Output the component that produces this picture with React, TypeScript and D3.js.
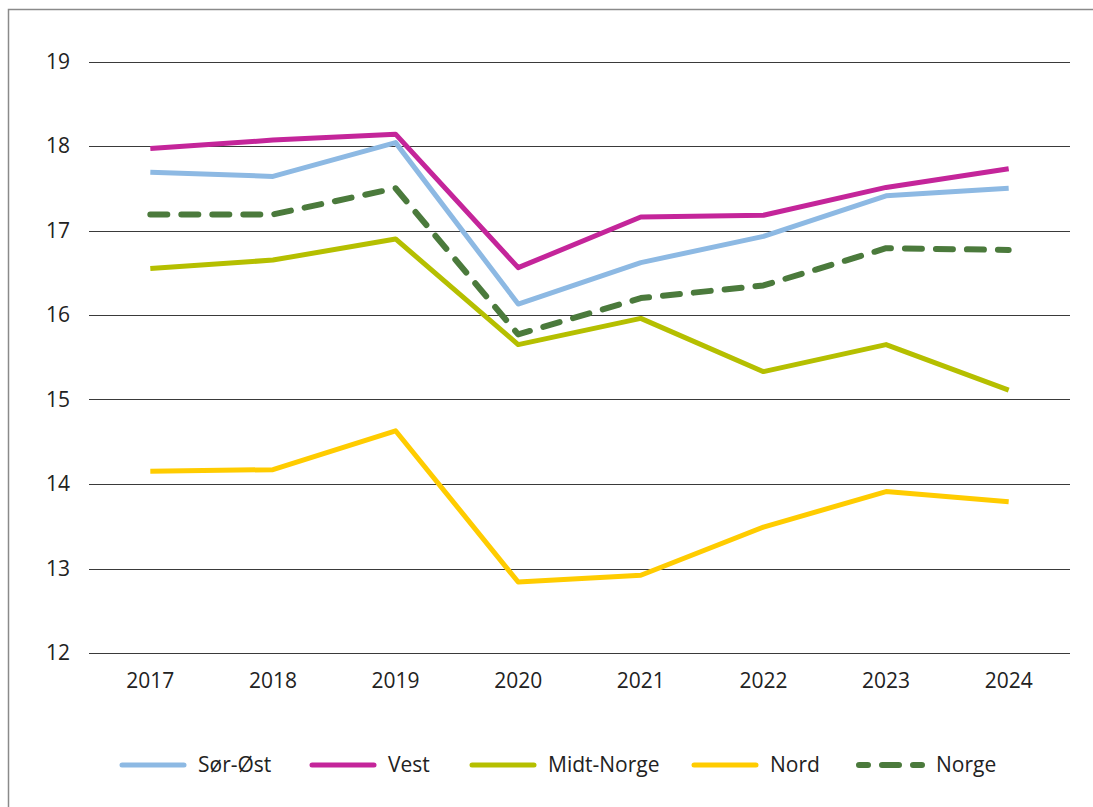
import React, { useRef, useEffect } from 'react';
import * as d3 from 'd3';

const years = ['2017', '2018', '2019', '2020', '2021', '2022', '2023', '2024'];
const yTicks = [12, 13, 14, 15, 16, 17, 18, 19];

const sorOst = [17.69, 17.64, 18.04, 16.13, 16.62, 16.93, 17.41, 17.5];
const vest = [17.97, 18.07, 18.14, 16.56, 17.16, 17.18, 17.51, 17.73];
const midtNorge = [16.55, 16.65, 16.9, 15.65, 15.96, 15.33, 15.65, 15.11];
const nord = [14.15, 14.17, 14.63, 12.84, 12.92, 13.49, 13.91, 13.79];
const norge = [17.19, 17.19, 17.5, 15.77, 16.2, 16.35, 16.79, 16.77];

const series = [
  { name: 'Sør-Øst', values: sorOst, color: '#8db9e3', dashed: false },
  { name: 'Vest', values: vest, color: '#c4259a', dashed: false },
  { name: 'Midt-Norge', values: midtNorge, color: '#b5bf00', dashed: false },
  { name: 'Nord', values: nord, color: '#ffcc00', dashed: false },
  { name: 'Norge', values: norge, color: '#4b7a3c', dashed: true },
];

const W = 1093;
const H = 807;
const FONT = '"Open Sans", sans-serif';

const App = () => {
  const ref = useRef<SVGSVGElement | null>(null);

  useEffect(() => {
    if (!ref.current) return;
    const svg = d3.select(ref.current);
    svg.selectAll('*').remove();

    // frame (only top + left edges show)
    svg.append('path')
      .attr('d', `M8.5,${H} V9.5 H${W}`)
      .attr('fill', 'none')
      .attr('stroke', '#8a8a8a')
      .attr('stroke-width', 1.5);

    const x = d3.scaleBand().domain(years).range([89, 1070]);
    const y = d3.scaleLinear().domain([12, 19]).range([653, 61.5]);

    const grid = svg.append('g');
    yTicks.forEach(t => {
      grid.append('line')
        .attr('x1', 89).attr('x2', 1070)
        .attr('y1', Math.round(y(t)) + 0.5).attr('y2', Math.round(y(t)) + 0.5)
        .attr('stroke', '#3a3a3a')
        .attr('stroke-width', 1);
      grid.append('text')
        .attr('x', 70)
        .attr('y', y(t))
        .attr('dy', '0.35em')
        .attr('text-anchor', 'end')
        .attr('font-family', FONT)
        .attr('font-size', 21)
        .attr('fill', '#222')
        .text(t);
    });

    years.forEach(yr => {
      svg.append('text')
        .attr('x', x(yr)! + x.bandwidth() / 2)
        .attr('y', 688)
        .attr('text-anchor', 'middle')
        .attr('font-family', FONT)
        .attr('font-size', 21)
        .attr('fill', '#222')
        .text(yr);
    });

    const line = d3.line<number>()
      .x((_, i) => x(years[i])! + x.bandwidth() / 2)
      .y(d => y(d));

    series.forEach(s => {
      svg.append('path')
        .attr('d', line(s.values)!)
        .attr('fill', 'none')
        .attr('stroke', s.color)
        .attr('stroke-width', s.dashed ? 6 : 5)
        .attr('stroke-linejoin', 'round')
        .attr('stroke-linecap', s.dashed ? 'round' : 'butt')
        .attr('stroke-dasharray', s.dashed ? '17 14' : null);
    });

    // legend
    const legendX = [122, 312, 472, 694, 859];
    const legendY = 765;
    series.forEach((s, i) => {
      const g = svg.append('g').attr('transform', `translate(${legendX[i]},${legendY})`);
      g.append('line')
        .attr('x1', 0).attr('x2', s.dashed ? 63 : 62)
        .attr('y1', 0).attr('y2', 0)
        .attr('stroke', s.color)
        .attr('stroke-width', s.dashed ? 6 : 5)
        .attr('stroke-linecap', 'round')
        .attr('stroke-dasharray', s.dashed ? '9 14 17 14 9' : null);
      g.append('text')
        .attr('x', s.dashed ? 77 : 76)
        .attr('y', 0)
        .attr('dy', '0.35em')
        .attr('font-family', FONT)
        .attr('font-size', 21)
        .attr('fill', '#222')
        .text(s.name);
    });
  }, []);

  return (
    <svg
      ref={ref}
      width={W}
      height={H}
      style={{ position: 'absolute', left: 0, top: 0, background: '#fff' }}
    />
  );
};

export default App;
